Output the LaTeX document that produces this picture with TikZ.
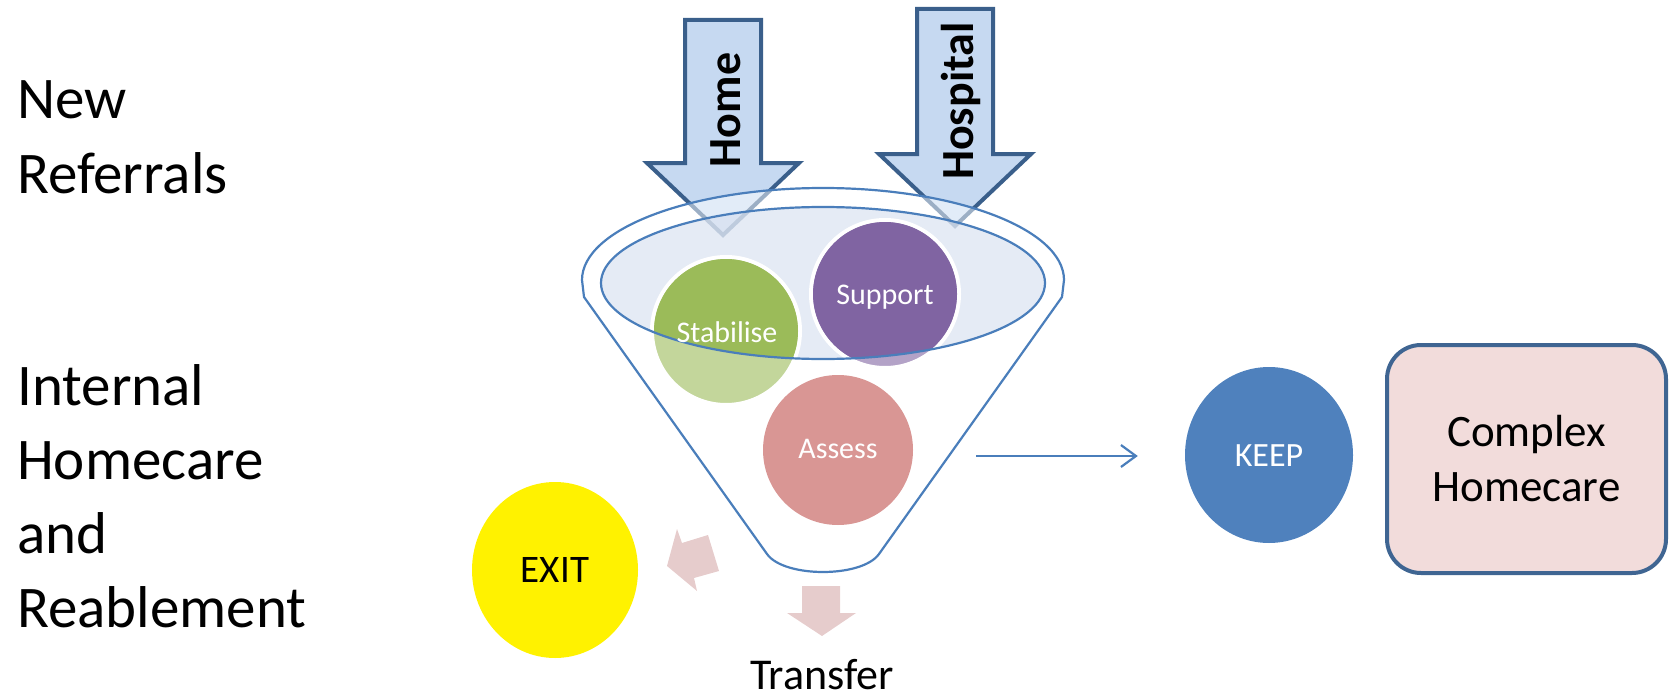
\documentclass[tikz,border=0pt]{standalone}
\usepackage{fontspec}
\setmainfont{Carlito}
\usetikzlibrary{arrows.meta,shapes.geometric}
\definecolor{arrowF}{HTML}{C6D9F1}
\definecolor{arrowB}{HTML}{3A5F8B}
\definecolor{funL}{HTML}{4A7EBB}
\definecolor{innerF}{HTML}{D5DEEE}
\definecolor{stabF}{HTML}{9BBB59}
\definecolor{stabL}{HTML}{C3D69B}
\definecolor{suppF}{HTML}{8064A2}
\definecolor{suppL}{HTML}{B3A2C7}
\definecolor{assL}{HTML}{D99694}
\definecolor{keepF}{HTML}{4F81BD}
\definecolor{boxF}{HTML}{F2DCDB}
\definecolor{boxB}{HTML}{3F6592}
\definecolor{pinkA}{HTML}{E6CCCC}
\begin{document}
\begin{tikzpicture}[x=1pt,y=-1pt,
  lefttxt/.style={anchor=base west,inner sep=0pt,font=\fontsize{59}{74}\selectfont},
  inarrow/.style={fill=arrowF,draw=arrowB,line width=4pt,miter limit=10},
  arrtxt/.style={rotate=90,anchor=base,inner sep=0pt,font=\bfseries\fontsize{46}{50}\selectfont},
  funline/.style={draw=funL,line width=2.2pt},
  circ/.style={circle,minimum size=148pt,draw=white,line width=4pt,inner sep=0pt},
  ctext/.style={text=white,inner sep=0pt,text height=19pt,text depth=0pt,font=\fontsize{30}{34}\selectfont},
  outarrow/.style={fill=pinkA},
  conn/.style={draw=funL,line width=2.2pt,-{Straight Barb[length=15pt,width=22pt,line width=2.2pt]}}
]
\useasboundingbox (0,0) rectangle (1670,698);

% left labels
\node[lefttxt] (l1) at (17,119) {New};
\node[lefttxt] (l2) at (17,193) {Referrals};
\node[lefttxt] (l3) at (17,405) {Internal};
\node[lefttxt] (l4) at (17,479) {Homecare};
\node[lefttxt] (l5) at (17,553) {and};
\node[lefttxt] (l6) at (17,627) {Reablement};

% incoming arrows
\draw[inarrow] (685,20) -- (761,20) -- (761,163) -- (799,163) -- (723,235) -- (647,163) -- (685,163) -- cycle;
\draw[inarrow] (917,9) -- (993,9) -- (993,154) -- (1031,154) -- (955,226) -- (879,154) -- (917,154) -- cycle;
\node[arrtxt] (home) at (740,110) {Home};
\node[arrtxt] (hosp) at (973,101) {Hospital};

% funnel body (translucent white)
\fill[white,fill opacity=0.5] (582,280) .. controls (582,229.2) and (689.9,188) .. (823,188)
  .. controls (956.1,188) and (1064,229.2) .. (1064,280) -- (1062,297) -- (879,554)
  .. controls (862,578) and (784,578) .. (767,554) -- (584,297) -- cycle;
\fill[innerF,fill opacity=0.6] (823,283) ellipse [x radius=222pt, y radius=76pt];

% circles
\node[circ,fill=stabL] (stab) at (726,331) {};
\node[circ,fill=suppL] (supp) at (885,294) {};
\node[circ,fill=assL,draw=none,minimum size=150pt] (ass) at (838,450) {};
\begin{scope}
  \clip (823,283) ellipse [x radius=222pt, y radius=76pt];
  \fill[stabF] (stab.center) circle (72pt);
  \fill[suppF] (supp.center) circle (72pt);
\end{scope}

% funnel outlines
\draw[funline] (823,283) ellipse [x radius=222pt, y radius=76pt];
\draw[funline,line join=round] (582,280) .. controls (582,229.2) and (689.9,188) .. (823,188)
  .. controls (956.1,188) and (1064,229.2) .. (1064,280) -- (1062,297) -- (879,554)
  .. controls (862,578) and (784,578) .. (767,554) -- (584,297) -- cycle;

\node[ctext] (stabt) at (727,333) {Stabilise};
\node[ctext] (suppt) at (885,295) {Support};
\node[ctext] (asst) at (838,449) {Assess};

% EXIT
\node[ellipse,fill=yellow,minimum width=166pt,minimum height=176pt,inner sep=0pt,
  font=\fontsize{39}{44}\selectfont] (exit) at (555,570) {EXIT};
\fill[outarrow] (667,566) -- (677,529) -- (682,543) -- (708,535) -- (719,571) -- (694,578) -- (697,591) -- cycle;

% Transfer
\fill[outarrow] (802,586) -- (840,586) -- (840,613) -- (856,613) -- (822,636) -- (787,613) -- (802,613) -- cycle;
\node[anchor=base,inner sep=0pt,font=\fontsize{44}{50}\selectfont] (transfer) at (822,689) {Transfer};

% KEEP
\node[ellipse,fill=keepF,minimum width=168pt,minimum height=176pt,inner sep=0pt,text=white,
  text height=22pt,text depth=0pt,font=\fontsize{34}{40}\selectfont] (keep) at (1269,455) {KEEP};
\coordinate (fout) at (976,456);
\draw[conn] (fout) -- ([xshift=-47pt]keep.west |- fout);

% Complex Homecare
\node[draw=boxB,line width=4pt,fill=boxF,rounded corners=34pt,minimum width=279pt,minimum height=228pt,
  align=center,inner sep=0pt,font=\fontsize{45}{55}\selectfont] (cx) at (1526.5,459) {Complex\\Homecare};
\end{tikzpicture}
\end{document}
